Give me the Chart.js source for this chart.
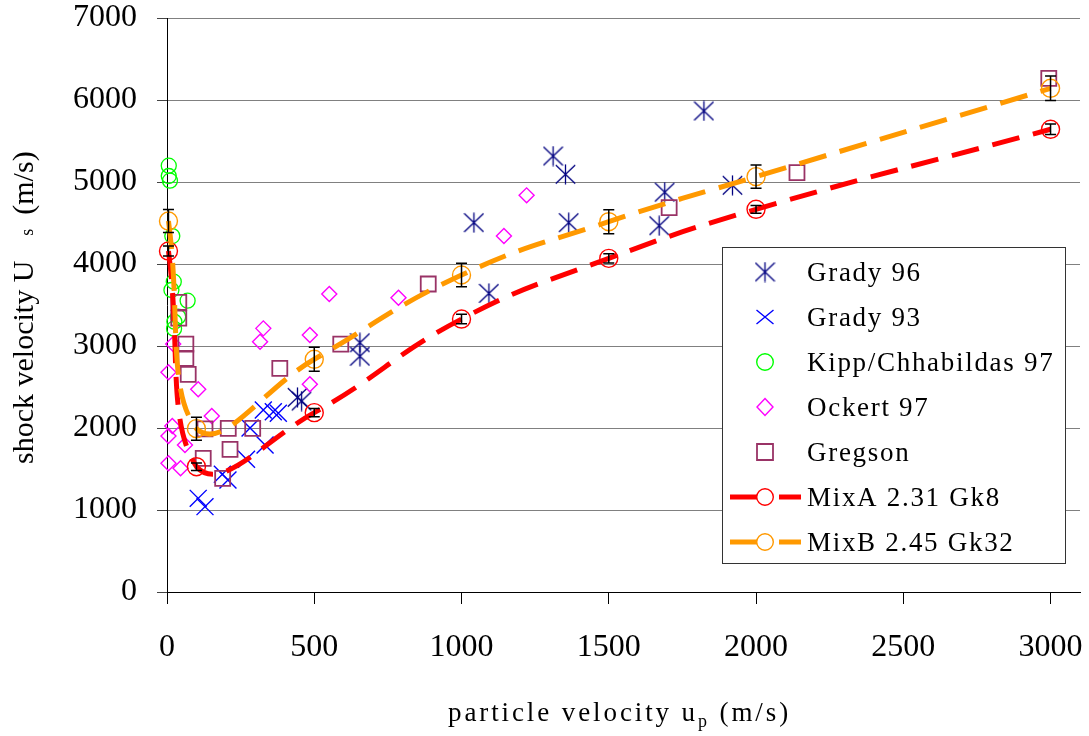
<!DOCTYPE html>
<html>
<head>
<meta charset="utf-8">
<script src="https://cdn.jsdelivr.net/npm/chart.js"></script>
<style>
html, body { margin: 0; padding: 0; background: #fff; }
#wrap { width: 1089px; height: 736px; }
</style>
</head>
<body>
<div id="wrap"><canvas id="shock"></canvas></div>
<script>
// values, all in m/s
var grady96X = [443, 457, 655, 655, 1042, 1093, 1311, 1353, 1364, 1671, 1690, 1823, 1920];
var grady96Y = [2374, 2329, 3040, 2875, 4504, 3642, 5317, 5094, 4504, 4467, 4876, 5866, 4960];

var grady93X = [106, 129, 188, 207, 270, 282, 333, 327, 361, 378];
var grady93Y = [1142, 1041, 1437, 1366, 1620, 2000, 1793, 2220, 2199, 2179];

var kippX = [6, 6, 10, 18, 23, 15, 70, 38, 25, 24];
var kippY = [5199, 5073, 5016, 4341, 3784, 3683, 3553, 3357, 3296, 3211];

var ockertX = [5, 21, 18, 5, 5, 46, 61, 106, 152, 316, 327, 485, 485, 551, 786, 1144, 1221];
var ockertY = [2679, 3024, 2024, 1902, 1569, 1508, 1793, 2472, 2146, 3053, 3215, 3134, 2533, 3634, 3589, 4341, 4837];

var gregsonX = [40, 40, 64, 64, 72, 123, 129, 189, 208, 214, 291, 383, 590, 887, 1705, 2139, 2994];
var gregsonY = [3533, 3340, 3024, 2850, 2655, 1630, 1990, 1386, 1996, 1740, 1996, 2728, 3024, 3756, 4687, 5114, 6264];

var mixX = [5, 100, 500, 1000, 1500, 2000, 3000];
var mixAY = [4158, 1528, 2187, 3329, 4069, 4667, 5643];
var mixAErr = [60, 45, 50, 57, 57, 47, 65];
var mixBY = [4524, 1992, 2838, 3866, 4516, 5065, 6143];
var mixBErr = [140, 140, 146, 142, 146, 142, 150];

var xTickVals = [0, 500, 1000, 1500, 2000, 2500, 3000];
var yTickVals = [0, 1000, 2000, 3000, 4000, 5000, 6000, 7000];
var xMax = 3100;

var serif = '"Liberation Serif", "Times New Roman", serif';

function toPts(xs, ys) {
	var out = [];
	for (let i = 0; i < xs.length; i++) out.push({x: xs[i], y: ys[i]});
	return out;
}

// Excel style asterisk: an X with a vertical stroke
function makeAsterisk(color) {
	var c = document.createElement('canvas');
	c.width = 21; c.height = 21;
	var g = c.getContext('2d');
	g.strokeStyle = color; g.lineWidth = 1.3;
	g.beginPath();
	g.moveTo(10.5, 0.5); g.lineTo(10.5, 20.5);
	g.moveTo(0.8, 1.2); g.lineTo(20.2, 19.8);
	g.moveTo(20.2, 1.2); g.lineTo(0.8, 19.8);
	g.stroke();
	return c;
}
var asterisk = makeAsterisk('#000080');

function drawMark(ctx, mk, color, x, y) {
	ctx.save();
	ctx.strokeStyle = color; ctx.lineWidth = 1.4;
	ctx.beginPath();
	if (mk === 'star') {
		ctx.drawImage(asterisk, x - 10.5, y - 10.5);
	} else if (mk === 'x') {
		ctx.moveTo(x - 8.5, y - 7); ctx.lineTo(x + 8.5, y + 7);
		ctx.moveTo(x + 8.5, y - 7); ctx.lineTo(x - 8.5, y + 7);
	} else if (mk === 'circle') {
		ctx.arc(x, y, 8.3, 0, Math.PI * 2);
	} else if (mk === 'diamond') {
		ctx.moveTo(x, y - 8.5); ctx.lineTo(x + 8, y); ctx.lineTo(x, y + 8.5); ctx.lineTo(x - 8, y); ctx.closePath();
	} else if (mk === 'square') {
		ctx.lineWidth = 1.8;
		ctx.rect(x - 8, y - 8, 16, 16);
	}
	ctx.stroke();
	ctx.restore();
}

var extras = {
	id: 'extras',
	afterDatasetsDraw: function(chart) {
		var ctx = chart.ctx, ys = chart.scales.y;
		[[5, mixAErr], [6, mixBErr]].forEach(function(pair) {
			var di = pair[0], errs = pair[1];
			var meta = chart.getDatasetMeta(di);
			meta.data.forEach(function(pt, i) {
				var v = chart.data.datasets[di].data[i].y;
				var top = ys.getPixelForValue(v + errs[i]);
				var bot = ys.getPixelForValue(v - errs[i]);
				ctx.save();
				ctx.strokeStyle = '#000'; ctx.lineWidth = 1.5;
				ctx.beginPath();
				ctx.moveTo(pt.x, top); ctx.lineTo(pt.x, bot);
				ctx.moveTo(pt.x - 5.5, top); ctx.lineTo(pt.x + 5.5, top);
				ctx.moveTo(pt.x - 5.5, bot); ctx.lineTo(pt.x + 5.5, bot);
				ctx.stroke();
				ctx.restore();
			});
		});
	},
	afterDraw: function(chart) {
		var ctx = chart.ctx;
		// legend box
		ctx.save();
		ctx.fillStyle = '#fff';
		ctx.fillRect(722, 247, 344, 316);
		ctx.strokeStyle = '#333'; ctx.lineWidth = 1;
		ctx.strokeRect(722.5, 247.5, 343, 316);
		ctx.restore();
		chart.data.datasets.forEach(function(ds, i) {
			var base = 281 + i * 45, my = base - 9;
			if (ds.showLine) {
				ctx.save();
				ctx.strokeStyle = ds.borderColor; ctx.lineWidth = 5;
				ctx.beginPath();
				ctx.moveTo(730, my); ctx.lineTo(757, my);
				ctx.moveTo(779, my); ctx.lineTo(801, my);
				ctx.stroke();
				ctx.restore();
			}
			drawMark(ctx, ds.mk, ds.pointBorderColor, 765, my);
			ctx.save();
			ctx.fillStyle = '#000';
			ctx.font = '27px ' + serif;
			ctx.letterSpacing = '1.7px';
			ctx.textBaseline = 'alphabetic';
			ctx.fillText(ds.label, 807, base);
			ctx.restore();
		});

		// x title with subscript p
		ctx.save();
		ctx.fillStyle = '#000';
		ctx.textBaseline = 'alphabetic';
		ctx.letterSpacing = '2.9px';
		var x = 448, by = 721;
		ctx.font = '27px ' + serif;
		ctx.fillText('particle velocity u', x, by);
		x += ctx.measureText('particle velocity u').width;
		ctx.font = '18px ' + serif;
		ctx.fillText('p', x, by + 6);
		x += ctx.measureText('p').width;
		ctx.font = '27px ' + serif;
		ctx.fillText(' (m/s)', x, by);
		ctx.restore();

		// y title, rotated
		ctx.save();
		ctx.fillStyle = '#000';
		ctx.textBaseline = 'alphabetic';
		ctx.translate(33, 464);
		ctx.rotate(-Math.PI / 2);
		var p = 0;
		ctx.font = '30px ' + serif;
		ctx.fillText('shock velocity U', p, 0);
		p += ctx.measureText('shock velocity U').width + 25;
		ctx.font = '18px ' + serif;
		ctx.fillText('s', p, 0);
		p += ctx.measureText('s').width + 14;
		ctx.font = '30px ' + serif;
		ctx.fillText('(m/s)', p, 0);
		ctx.restore();
	}
};

var ctx = document.getElementById('shock').getContext('2d');
var chart = new Chart(ctx, {
	type: 'scatter',
	data: {
		datasets: [{
			label: 'Grady 96', mk: 'star',
			data: toPts(grady96X, grady96Y),
			pointStyle: asterisk, pointRadius: 10,
			pointBorderColor: '#000080', order: 7, clip: false
		}, {
			label: 'Grady 93', mk: 'x',
			data: toPts(grady93X, grady93Y),
			pointStyle: 'crossRot', pointRadius: 12, pointBorderWidth: 1.4,
			pointBorderColor: '#0000FF', order: 6, clip: false
		}, {
			label: 'Kipp/Chhabildas 97', mk: 'circle',
			data: toPts(kippX, kippY),
			pointStyle: 'circle', pointRadius: 7.5, pointBorderWidth: 1.3,
			pointBorderColor: '#00FF00', pointBackgroundColor: 'rgba(0,0,0,0)', order: 5, clip: false
		}, {
			label: 'Ockert 97', mk: 'diamond',
			data: toPts(ockertX, ockertY),
			pointStyle: 'rectRot', pointRadius: 7.5, pointBorderWidth: 1.4,
			pointBorderColor: '#FF00FF', pointBackgroundColor: 'rgba(0,0,0,0)', order: 4, clip: false
		}, {
			label: 'Gregson', mk: 'square',
			data: toPts(gregsonX, gregsonY),
			pointStyle: 'rect', pointRadius: 10.6, pointBorderWidth: 1.8,
			pointBorderColor: '#993366', pointBackgroundColor: 'rgba(0,0,0,0)', order: 3, clip: false
		}, {
			label: 'MixA 2.31 Gk8', mk: 'circle',
			data: toPts(mixX, mixAY),
			showLine: true, borderColor: '#FF0000', borderWidth: 5, borderDash: [28, 14],
			tension: 0.45, borderCapStyle: 'butt',
			pointStyle: 'circle', pointRadius: 9, pointBorderWidth: 1.4,
			pointBorderColor: '#FF0000', pointBackgroundColor: 'rgba(0,0,0,0)', order: 2, clip: false
		}, {
			label: 'MixB 2.45 Gk32', mk: 'circle',
			data: toPts(mixX, mixBY),
			showLine: true, borderColor: '#FF9900', borderWidth: 5, borderDash: [28, 14],
			tension: 0.45, borderCapStyle: 'butt',
			pointStyle: 'circle', pointRadius: 9, pointBorderWidth: 1.4,
			pointBorderColor: '#FF9900', pointBackgroundColor: 'rgba(0,0,0,0)', order: 1, clip: false
		}]
	},
	options: {
		responsive: true,
		maintainAspectRatio: false,
		animation: false,
		events: [],
		layout: { autoPadding: false, padding: { top: 18, right: 9, bottom: 0, left: 0 } },
		plugins: { legend: { display: false }, tooltip: { enabled: false } },
		scales: {
			x: {
				type: 'linear', min: 0, max: xMax,
				afterBuildTicks: function(s) { s.ticks = xTickVals.map(function(v) { return {value: v}; }); },
				afterFit: function(s) { s.height = 144; s.paddingLeft = 0; s.paddingRight = 0; },
				border: { color: '#000', width: 1 },
				grid: { drawOnChartArea: false, drawTicks: true, tickLength: 12, tickColor: '#000', tickWidth: 1 },
				ticks: {
					autoSkip: false, padding: 24, maxRotation: 0, minRotation: 0,
					color: '#000', font: { family: serif, size: 32 },
					callback: function(v) { return String(v); }
				}
			},
			y: {
				min: 0, max: 7000,
				afterBuildTicks: function(s) { s.ticks = yTickVals.map(function(v) { return {value: v}; }); },
				afterFit: function(s) { s.width = 167; s.paddingTop = 0; s.paddingBottom = 0; },
				border: { color: '#000', width: 1 },
				grid: { color: '#808080', lineWidth: 1, tickLength: 10, tickColor: '#444' },
				ticks: {
					autoSkip: false, padding: 20,
					color: '#000', font: { family: serif, size: 32 },
					callback: function(v) { return String(v); }
				}
			}
		}
	},
	plugins: [extras]
});
</script>
</body>
</html>
